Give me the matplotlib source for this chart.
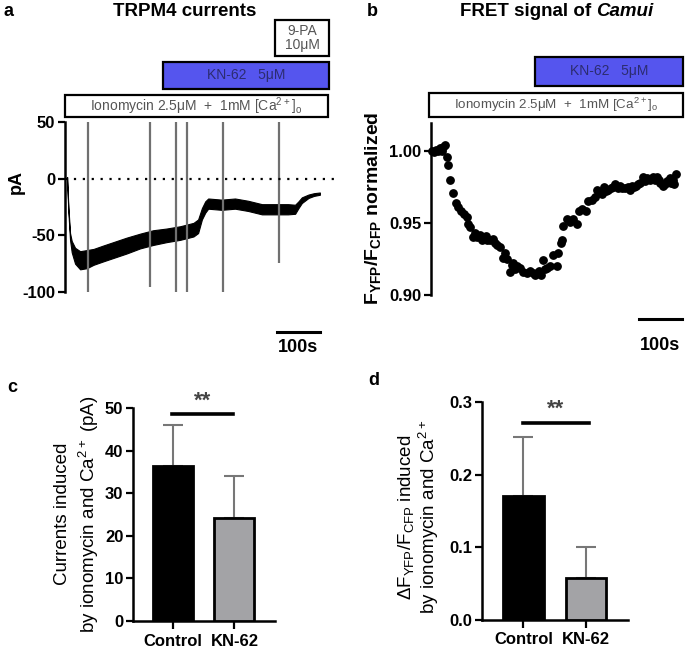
import matplotlib
matplotlib.use('Agg')
import matplotlib.pyplot as plt
from matplotlib.patches import Rectangle
from matplotlib.lines import Line2D
from matplotlib.transforms import blended_transform_factory

plt.rcParams['font.family'] = 'Liberation Sans'
plt.rcParams['mathtext.default'] = 'regular'
plt.rcParams['axes.unicode_minus'] = False

# panel a: TRPM4 current trace (noise band read as lower / upper envelope), seconds / pA
trace_t = [0, 3, 7, 11, 19, 31, 47, 63, 86, 110, 142, 174, 205, 237, 269, 301, 312,
           321, 329, 336, 368, 400, 431, 464, 495, 526, 543, 551, 559, 575, 588, 602]
trace_lo = [-1.5, -29, -54, -65, -75, -80, -79, -76, -73, -70, -66, -61.5, -58.5, -56, -54, -51, -48,
            -36, -30, -26.5, -27.5, -26.5, -28.5, -31.5, -31.5, -31.5, -31, -26, -21.5, -17, -15.2, -14.2]
trace_hi = [1.5, -25, -48, -55, -61, -64, -63, -62, -59, -56, -52, -48.5, -45.5, -44, -42, -39, -36,
            -26, -20, -17.5, -18.5, -17.5, -19.5, -22.5, -22.5, -22.5, -23, -20, -16.5, -14, -12.8, -12.2]
spike_t = [50, 198, 260, 286, 371, 505]
spike_lo = [-100, -95.5, -100, -100, -100, -74]
spike_hi = [50, 50, 50, 50, 50, 50]

# panel b: Camui FRET ratio, seconds / normalized ratio
fret_t = [0, 5, 9, 14, 19, 23, 26, 30, 35, 37, 42, 49, 56, 60, 67, 74, 81, 84, 88, 95,
          100, 105, 112, 115, 119, 124, 128, 135, 142, 146, 151, 158, 165, 170, 174, 181,
          185, 188, 193, 198, 205, 212, 221, 228, 235, 240, 244, 248, 251, 254, 258, 262,
          267, 274, 281, 291, 293, 300, 302, 304, 314, 321, 328, 337, 342, 349, 358, 363,
          372, 379, 384, 391, 395, 400, 404, 409, 416, 420, 426, 433, 437, 442, 449, 456,
          460, 465, 470, 474, 479, 484, 491, 495, 500, 507, 514, 518, 523, 527, 530, 537,
          542, 547, 553, 557, 560, 563, 567]
fret_v = [1.000, 0.999, 1.001, 1.000, 1.002, 1.000, 1.003, 1.004, 0.996, 0.990, 0.980, 0.971,
          0.964, 0.961, 0.958, 0.956, 0.954, 0.949, 0.947, 0.940, 0.943, 0.940, 0.942, 0.938,
          0.940, 0.941, 0.938, 0.938, 0.939, 0.936, 0.935, 0.933, 0.926, 0.929, 0.925, 0.916,
          0.921, 0.922, 0.918, 0.920, 0.919, 0.916, 0.915, 0.917, 0.915, 0.914, 0.915, 0.917,
          0.916, 0.914, 0.924, 0.918, 0.919, 0.920, 0.928, 0.920, 0.929, 0.936, 0.938, 0.948,
          0.953, 0.951, 0.953, 0.949, 0.958, 0.960, 0.958, 0.965, 0.966, 0.968, 0.973, 0.971,
          0.970, 0.975, 0.972, 0.973, 0.974, 0.975, 0.977, 0.974, 0.976, 0.974, 0.974, 0.975,
          0.973, 0.976, 0.975, 0.976, 0.977, 0.978, 0.982, 0.979, 0.981, 0.980, 0.982, 0.980,
          0.982, 0.980, 0.978, 0.976, 0.977, 0.979, 0.981, 0.978, 0.980, 0.977, 0.984]

# panels c, d: summary bars
groups = ['Control', 'KN-62']
cur_mean = [36.5, 24.2]
cur_err = [9.4, 9.8]
fret_mean = [0.171, 0.058]
fret_err = [0.081, 0.043]

W, H = 685, 648
def rect(l, t, r, b):
    return [l / W, 1 - b / H, (r - l) / W, (b - t) / H]
def fx(x):
    return x / W
def fy(y):
    return 1 - y / H

TICK_FS = 12
fig = plt.figure(figsize=(6.85, 6.48), dpi=100)

def label_box(ax, t0, t1, ytop, ybot, fc, text, tc, fs):
    tr = blended_transform_factory(ax.transData, fig.transFigure)
    fig.add_artist(Rectangle((t0, fy(ybot)), t1 - t0, fy(ytop) - fy(ybot), transform=tr,
                             facecolor=fc, edgecolor='k', lw=1.6, clip_on=False))
    fig.text((t0 + t1) / 2, fy((ytop + ybot) / 2), text, transform=tr, ha='center', va='center',
             color=tc, fontsize=fs, linespacing=1.05)

def scale_bar(ax, t0, t1, y, ylab):
    tr = blended_transform_factory(ax.transData, fig.transFigure)
    fig.add_artist(Line2D([t0, t1], [fy(y), fy(y)], transform=tr, color='k', lw=2.2))
    fig.text((t0 + t1) / 2, fy(ylab), '100s', transform=tr, ha='center', va='center',
             fontsize=13, weight='bold')

def style_left(ax):
    for s in ['top', 'right', 'bottom']:
        ax.spines[s].set_visible(False)
    ax.spines['left'].set_linewidth(1.8)
    ax.set_xticks([])
    ax.tick_params(axis='y', length=5, width=1.6, labelsize=TICK_FS, pad=2)
    for lab in ax.get_yticklabels():
        lab.set_fontweight('bold')

# ---- a
axA = fig.add_axes(rect(65, 122, 335, 292))
axA.set_xlim(-5, 638)
axA.set_ylim(-100, 50)
axA.fill_between(trace_t, trace_lo, trace_hi, color='k', lw=0.8)
axA.vlines(spike_t, spike_lo, spike_hi, color='#707070', lw=1.6)
axA.axhline(0, color='k', ls=(0, (1, 3)), lw=1.6)
axA.set_yticks([50, 0, -50, -100])
style_left(axA)
label_box(axA, -5, 621, 95, 117, 'white', 'Ionomycin 2.5μM  +  1mM [Ca$^{2+}$]$_o$', '#555555', 10)
label_box(axA, 229, 624, 62, 89, '#5555ee', 'KN-62   5μM', '#2c2c70', 10)
label_box(axA, 495, 624, 20, 56, 'white', '9-PA\n10μM', '#555555', 10)
scale_bar(axA, 500, 602, 332, 347)
fig.text(fx(16), fy(182), 'pA', rotation=90, ha='center', va='center', fontsize=13, weight='bold')
fig.text(fx(9), fy(11), 'a', ha='center', va='center', fontsize=13, weight='bold')
fig.text(fx(185), fy(11), 'TRPM4 currents', ha='center', va='center', fontsize=13.5, weight='bold')

# ---- b
axB = fig.add_axes(rect(431, 123, 683, 295))
axB.set_xlim(-3, 584)
axB.set_ylim(0.90, 0.90 + 172 / 1440)
axB.plot(fret_t, fret_v, 'o', color='k', ms=5.3, clip_on=False)
axB.set_yticks([0.90, 0.95, 1.00])
axB.set_yticklabels(['0.90', '0.95', '1.00'])
style_left(axB)
label_box(axB, -7, 584, 93, 117, 'white', 'Ionomycin 2.5μM  +  1mM [Ca$^{2+}$]$_o$', '#555555', 9.6)
label_box(axB, 240, 584, 57, 86, '#5555ee', 'KN-62   5μM', '#2c2c70', 10)
scale_bar(axB, 481, 581, 319, 345)
fig.text(fx(373), fy(208), 'F$_{YFP}$/F$_{CFP}$ normalized', rotation=90, ha='center', va='center',
         fontsize=14, weight='bold')
fig.text(fx(372), fy(11), 'b', ha='center', va='center', fontsize=13, weight='bold')
t1 = fig.text(0, fy(11), 'FRET signal of', ha='left', va='center', fontsize=13.5, weight='bold')
t2 = fig.text(0, fy(11), 'Camui', ha='left', va='center', fontsize=13.5, weight='bold', style='italic')
fig.canvas.draw()
w1 = t1.get_window_extent().width
w2 = t2.get_window_extent().width
gap = 5
x0 = 557 - (w1 + gap + w2) / 2
t1.set_x(fx(x0))
t2.set_x(fx(x0 + w1 + gap))

# ---- c, d
def bar_panel(box, means, errs, ylim, yticks, yticklabels, xlim, sig_x, sig_y, star_y):
    ax = fig.add_axes(rect(*box))
    x = [0, 1]
    ax.errorbar(x, means, yerr=[[0, 0], errs], fmt='none', ecolor='#777777', elinewidth=1.5,
                capsize=7, capthick=1.5, zorder=2, clip_on=False)
    ax.bar(x, means, width=0.65, color=['black', '#a3a3a6'], edgecolor='black', lw=2, zorder=3)
    ax.set_xlim(*xlim)
    ax.set_ylim(*ylim)
    ax.plot(sig_x, [sig_y, sig_y], color='k', lw=2.6, clip_on=False)
    ax.text(sum(sig_x) / 2, star_y, '**', ha='center', va='center', fontsize=16, color='#444444',
            weight='bold', clip_on=False)
    for s in ['top', 'right']:
        ax.spines[s].set_visible(False)
    for s in ['left', 'bottom']:
        ax.spines[s].set_linewidth(1.8)
    ax.set_yticks(yticks)
    ax.set_yticklabels(yticklabels)
    ax.set_xticks(x)
    ax.set_xticklabels(groups)
    ax.tick_params(axis='y', length=5, width=1.6, labelsize=TICK_FS, pad=2)
    ax.tick_params(axis='x', length=6, width=1.6, labelsize=TICK_FS, pad=3)
    for lab in ax.get_yticklabels() + ax.get_xticklabels():
        lab.set_fontweight('bold')
    return ax

bar_panel((133, 408, 275, 621), cur_mean, cur_err, (0, 50), [0, 10, 20, 30, 40, 50],
          ['0', '10', '20', '30', '40', '50'], (-0.65, 1.66), [-0.02, 0.97], 48.5, 51.5)
fig.text(fx(63), fy(514), 'Currents induced', rotation=90, ha='center', va='center', fontsize=13.5)
fig.text(fx(89), fy(514), 'by ionomycin and Ca$^{2+}$ (pA)', rotation=90, ha='center', va='center',
         fontsize=13.5)
fig.text(fx(12), fy(387), 'c', ha='center', va='center', fontsize=13, weight='bold')

bar_panel((482, 402, 628, 620), fret_mean, fret_err, (0, 0.3), [0, 0.1, 0.2, 0.3],
          ['0.0', '0.1', '0.2', '0.3'], (-0.66, 1.67), [-0.01, 1.04], 0.271, 0.29)
fig.text(fx(406), fy(517), 'ΔF$_{YFP}$/F$_{CFP}$ induced', rotation=90, ha='center', va='center',
         fontsize=13.5)
fig.text(fx(429), fy(517), 'by ionomycin and Ca$^{2+}$', rotation=90, ha='center', va='center',
         fontsize=13.5)
fig.text(fx(374), fy(380), 'd', ha='center', va='center', fontsize=13, weight='bold')

fig.savefig('out.png', dpi=100)
